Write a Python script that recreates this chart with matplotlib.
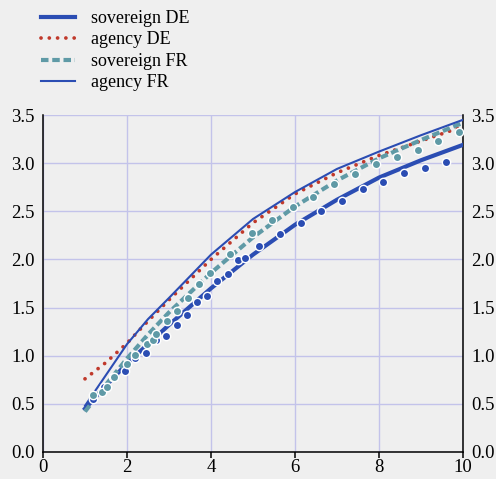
import matplotlib
matplotlib.use("Agg")
import matplotlib.pyplot as plt

plt.rcParams['font.family'] = ['Liberation Serif', 'DejaVu Serif']

maturity = [1, 1.5, 2, 2.5, 3, 4, 5, 6, 7, 8, 9, 10]
sov_de = [0.45, 0.69, 0.92, 1.12, 1.32, 1.70, 2.05, 2.36, 2.62, 2.85, 3.03, 3.19]
agency_de = [0.76, 0.93, 1.13, 1.36, 1.58, 2.00, 2.38, 2.68, 2.90, 3.08, 3.23, 3.38]
sov_fr = [0.42, 0.70, 0.97, 1.22, 1.45, 1.86, 2.23, 2.55, 2.82, 3.05, 3.24, 3.42]
agency_fr = [0.48, 0.80, 1.12, 1.38, 1.60, 2.05, 2.42, 2.70, 2.94, 3.12, 3.29, 3.45]

obs_de_x = [1.2, 1.45, 1.67, 1.95, 2.19, 2.45, 2.7, 2.93, 3.2, 3.43, 3.66, 3.9, 4.15,
            4.4, 4.65, 4.8, 5.14, 5.64, 6.14, 6.62, 7.12, 7.62, 8.1, 8.6, 9.1, 9.6]
obs_de_y = [0.55, 0.67, 0.78, 0.84, 0.98, 1.03, 1.16, 1.20, 1.32, 1.42, 1.56, 1.62, 1.78,
            1.85, 1.99, 2.02, 2.14, 2.26, 2.38, 2.50, 2.61, 2.73, 2.80, 2.90, 2.95, 3.01]
obs_fr_x = [1.19, 1.4, 1.52, 1.69, 2.0, 2.19, 2.47, 2.62, 2.7, 2.95, 3.19, 3.45, 3.72,
            3.98, 4.45, 4.98, 5.45, 5.95, 6.43, 6.93, 7.43, 7.93, 8.43, 8.93, 9.4, 9.9]
obs_fr_y = [0.59, 0.62, 0.68, 0.78, 0.91, 1.01, 1.12, 1.16, 1.23, 1.36, 1.46, 1.60, 1.74,
            1.86, 2.06, 2.27, 2.41, 2.54, 2.65, 2.78, 2.89, 2.99, 3.06, 3.14, 3.23, 3.32]

x_ticks = [0, 2, 4, 6, 8, 10]
y_ticks = [0.0, 0.5, 1.0, 1.5, 2.0, 2.5, 3.0, 3.5]

bg = '#efefef'
blue = '#2b4db3'
red = '#c0392b'
teal = '#5f9aa6'
grid = '#c3c3ea'

fig = plt.figure(figsize=(4.96, 4.79), dpi=100, facecolor=bg)
ax = fig.add_axes([43/496, 27/479, 420/496, 337/479], facecolor=bg)

l1, = ax.plot(maturity, sov_de, color=blue, lw=3.0, label='sovereign DE', zorder=3)
l2, = ax.plot(maturity, agency_de, color=red, lw=2.7, ls=(0, (0.01, 2.2)),
              dash_capstyle='round', label='agency DE', zorder=3)
l3, = ax.plot(maturity, sov_fr, color=teal, lw=3.0, ls=(0, (1.8, 0.9)),
              label='sovereign FR', zorder=3)
l4, = ax.plot(maturity, agency_fr, color=blue, lw=1.5, label='agency FR', zorder=3)

ax.scatter(obs_de_x, obs_de_y, s=36, color=blue, edgecolor='white', linewidth=1.0, zorder=4)
ax.scatter(obs_fr_x, obs_fr_y, s=36, color=teal, edgecolor='white', linewidth=1.0, zorder=4)

ax.set_xlim(0, 10)
ax.set_ylim(0, 3.5)
ax.set_xticks(x_ticks)
ax.set_yticks(y_ticks)
ax.set_yticklabels([f'{v:.1f}' for v in y_ticks])
ax.grid(True, color=grid, lw=1.0, zorder=0)
ax.set_axisbelow(True)

ax.spines['top'].set_visible(False)
for s in ['left', 'right', 'bottom']:
    ax.spines[s].set_color('black')
    ax.spines[s].set_linewidth(1.1)

ax.tick_params(axis='x', direction='out', length=4, width=1.1, labelsize=13.5, pad=1)
ax.tick_params(axis='y', length=0, labelsize=13.5, pad=6, left=True, right=True,
               labelleft=True, labelright=True)

fig.legend(handles=[l1, l2, l3, l4], loc='upper left', bbox_to_anchor=(31/496, 1.0),
           frameon=False, fontsize=13, handlelength=1.9, handletextpad=0.85,
           labelspacing=0.25, borderaxespad=0.15)

fig.savefig('out.png', dpi=100, facecolor=bg)
